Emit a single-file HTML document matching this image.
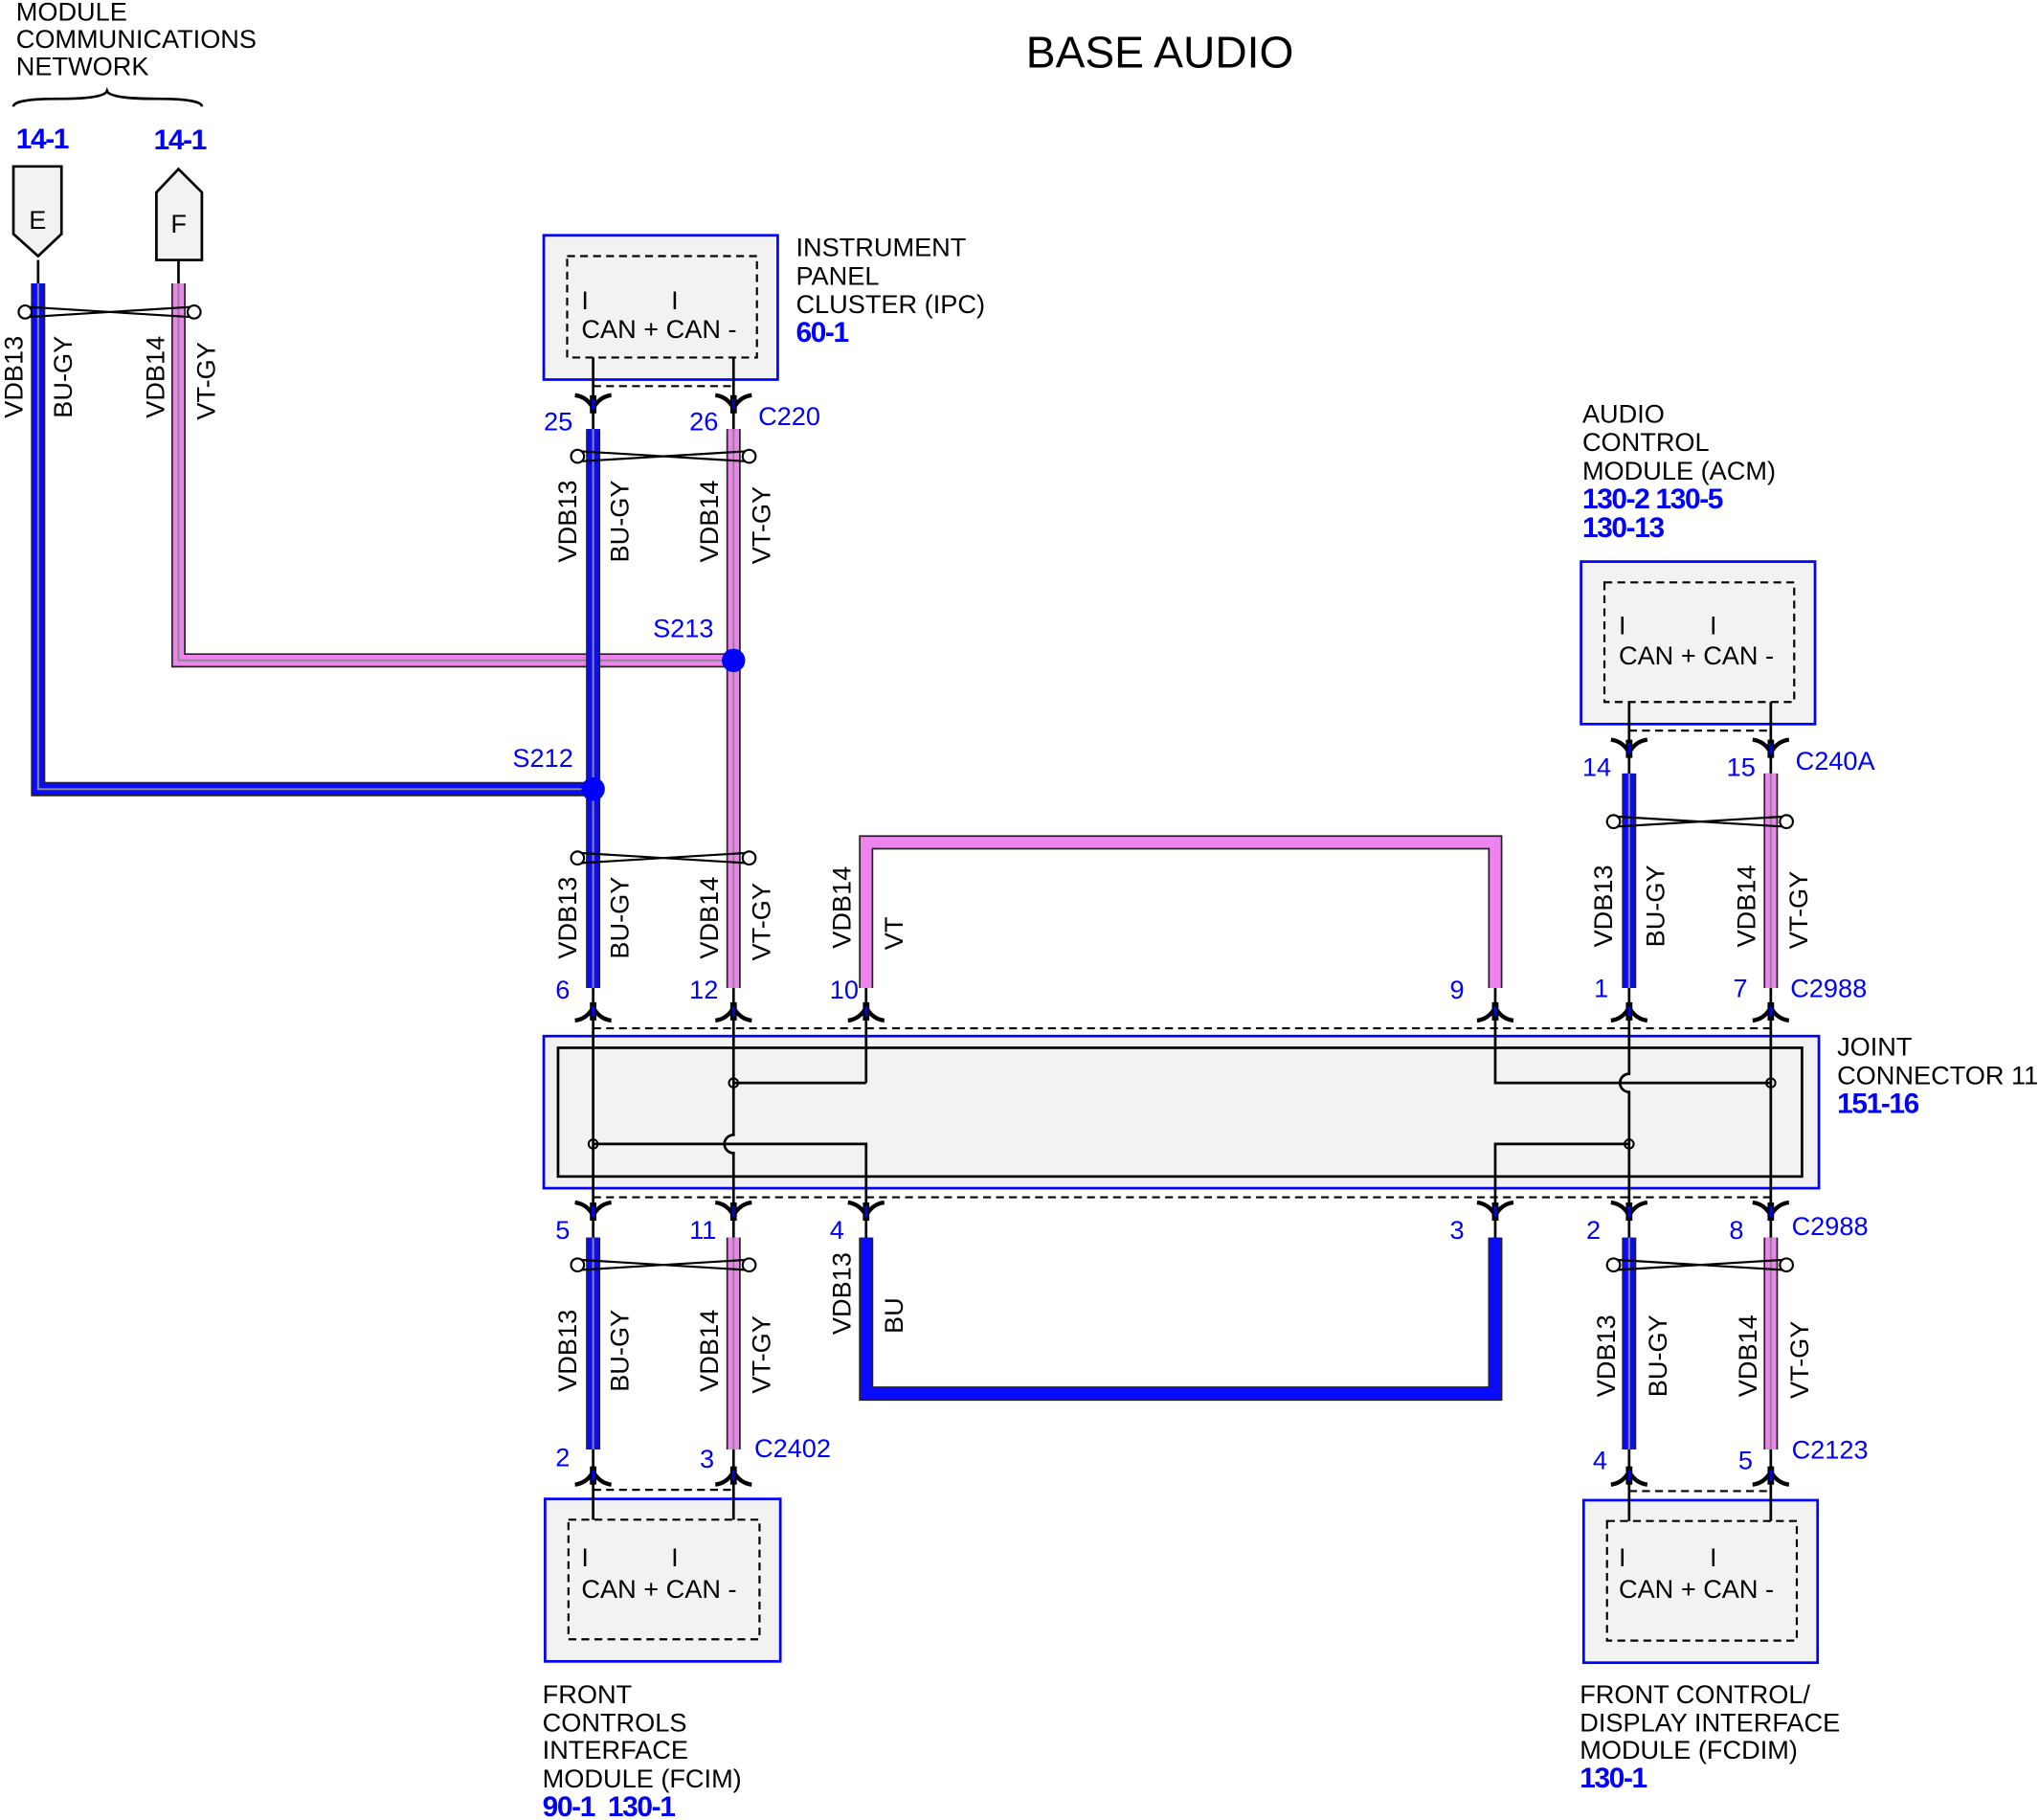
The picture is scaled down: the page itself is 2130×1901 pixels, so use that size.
<!DOCTYPE html>
<html><head><meta charset="utf-8"><style>
html,body{margin:0;padding:0;background:#fff;}
svg{display:block;}
text{font-family:"Liberation Sans","DejaVu Sans",sans-serif;font-size:20px;fill:#000;}
.b{fill:#0000ff;}
.bb{fill:#0000ff;font-weight:bold;font-size:22px;letter-spacing:-1px;}
</style></head><body>
<svg id="s" xmlns="http://www.w3.org/2000/svg" width="2130" height="1901" viewBox="0 0 1568 1400">
<g id="bg">
<!-- boxes -->
<rect x="418" y="181" width="180" height="111" fill="#f2f2f2" stroke="#0000ff" stroke-width="2"/>
<rect x="436" y="197" width="146" height="78" fill="none" stroke="#000" stroke-width="1.6" stroke-dasharray="6,4"/>
<rect x="1216" y="432" width="180" height="125" fill="#f2f2f2" stroke="#0000ff" stroke-width="2"/>
<rect x="1234" y="448" width="146" height="92" fill="none" stroke="#000" stroke-width="1.6" stroke-dasharray="6,4"/>
<rect x="419" y="1153" width="181" height="125" fill="#f2f2f2" stroke="#0000ff" stroke-width="2"/>
<rect x="437" y="1169" width="147" height="92" fill="none" stroke="#000" stroke-width="1.6" stroke-dasharray="6,4"/>
<rect x="1218" y="1154" width="180" height="125" fill="#f2f2f2" stroke="#0000ff" stroke-width="2"/>
<rect x="1236" y="1170" width="146" height="92" fill="none" stroke="#000" stroke-width="1.6" stroke-dasharray="6,4"/>
<rect x="418" y="797" width="981" height="117" fill="#f2f2f2" stroke="#0000ff" stroke-width="2"/>
<rect x="429" y="806" width="957" height="99" fill="none" stroke="#000" stroke-width="2"/>
<!-- dashed connector lines -->
<g stroke="#000" stroke-width="1.6" stroke-dasharray="6,4" fill="none">
<line x1="456" y1="297" x2="564" y2="297"/>
<line x1="1253" y1="562" x2="1362" y2="562"/>
<line x1="456" y1="791" x2="1362" y2="791"/>
<line x1="456" y1="921" x2="1362" y2="921"/>
<line x1="456" y1="1146" x2="564" y2="1146"/>
<line x1="1253" y1="1147" x2="1362" y2="1147"/>
</g>
<!-- internal joint lines -->
<g stroke="#000" stroke-width="2" fill="none">
<line x1="456" y1="275" x2="456" y2="332"/><line x1="564" y1="275" x2="564" y2="332"/>
<line x1="1253" y1="540" x2="1253" y2="597"/><line x1="1362" y1="540" x2="1362" y2="597"/>
<line x1="456" y1="758" x2="456" y2="955"/>
<path d="M564 758 V873 A7 7 0 0 0 564 887 V955"/>
<line x1="666" y1="758" x2="666" y2="833"/><line x1="564" y1="833" x2="666" y2="833"/>
<path d="M456 880 H666 V955"/>
<path d="M1150 758 V833 H1362"/>
<path d="M1253 758 V826 A7 7 0 0 0 1253 840 V955"/>
<line x1="1362" y1="758" x2="1362" y2="955"/>
<path d="M1253 880 H1150 V955"/>
<line x1="456" y1="1113" x2="456" y2="1169"/><line x1="564" y1="1113" x2="564" y2="1169"/>
<line x1="1253" y1="1113" x2="1253" y2="1170"/><line x1="1362" y1="1113" x2="1362" y2="1170"/>
<line x1="29" y1="200" x2="29" y2="220"/><line x1="137" y1="200" x2="137" y2="220"/>
</g>
<g fill="none" stroke="#000" stroke-width="1.5">
<circle cx="564" cy="833" r="3.5"/><circle cx="456" cy="880" r="3.5"/>
<circle cx="1362" cy="833" r="3.5"/><circle cx="1253" cy="880" r="3.5"/>
</g>
<!-- E/F connectors -->
<path d="M10 128 H47 V180 L29 197 L10 180 Z" fill="#f2f2f2" stroke="#000" stroke-width="2"/>
<path d="M120 148 L137 130 L155 148 V200 H120 Z" fill="#f2f2f2" stroke="#000" stroke-width="2"/>
<path d="M10 82 Q10 76 45 76 Q80 76 82 70 Q84 76 120 76 Q155 76 155 82" fill="none" stroke="#000" stroke-width="2"/>
</g>
<g id="dyn"></g>
<!-- splice dots -->
<circle cx="564" cy="508" r="9" fill="#0000ff"/>
<circle cx="456" cy="607" r="9" fill="#0000ff"/>

<!-- text -->
<text x="789" y="52" style="font-size:34px">BASE AUDIO</text>
<text x="12" y="16">MODULE</text>
<text x="12" y="37">COMMUNICATIONS</text>
<text x="12" y="58">NETWORK</text>
<text class="bb" x="12" y="114">14-1</text>
<text class="bb" x="118" y="115">14-1</text>
<text x="22" y="176">E</text>
<text x="131" y="179">F</text>

<text x="612" y="197">INSTRUMENT</text>
<text x="612" y="219">PANEL</text>
<text x="612" y="241">CLUSTER (IPC)</text>
<text class="bb" x="612" y="263">60-1</text>
<text x="447" y="238">I</text><text x="516" y="238">I</text>
<text x="447" y="260">CAN + CAN -</text>

<text x="1217" y="325">AUDIO</text>
<text x="1217" y="347">CONTROL</text>
<text x="1217" y="369">MODULE (ACM)</text>
<text class="bb" x="1217" y="391">130-2 130-5</text>
<text class="bb" x="1217" y="413">130-13</text>
<text x="1245" y="488">I</text><text x="1315" y="488">I</text>
<text x="1245" y="511">CAN + CAN -</text>

<text x="447" y="1205">I</text><text x="516" y="1205">I</text>
<text x="447" y="1229">CAN + CAN -</text>
<text x="1245" y="1205">I</text><text x="1315" y="1205">I</text>
<text x="1245" y="1229">CAN + CAN -</text>

<text x="417" y="1310">FRONT</text>
<text x="417" y="1332">CONTROLS</text>
<text x="417" y="1353">INTERFACE</text>
<text x="417" y="1375">MODULE (FCIM)</text>
<text class="bb" x="417" y="1397">90-1&#160;&#160;130-1</text>

<text x="1215" y="1310">FRONT CONTROL/</text>
<text x="1215" y="1332">DISPLAY INTERFACE</text>
<text x="1215" y="1353">MODULE (FCDIM)</text>
<text class="bb" x="1215" y="1375">130-1</text>

<text x="1413" y="812">JOINT</text>
<text x="1413" y="834">CONNECTOR 11</text>
<text class="bb" x="1413" y="856">151-16</text>

<g class="b">
<text class="b" x="418" y="331">25</text><text class="b" x="530" y="331">26</text><text class="b" x="583" y="327">C220</text>
<text class="b" x="502" y="490">S213</text><text class="b" x="394" y="590">S212</text>
<text class="b" x="1217" y="597">14</text><text class="b" x="1328" y="597">15</text><text class="b" x="1381" y="592">C240A</text>
<text class="b" x="427" y="768">6</text><text class="b" x="530" y="768">12</text><text class="b" x="638" y="768">10</text><text class="b" x="1115" y="768">9</text>
<text class="b" x="1226" y="767">1</text><text class="b" x="1333" y="767">7</text><text class="b" x="1377" y="767">C2988</text>
<text class="b" x="427" y="953">5</text><text class="b" x="530" y="953">11</text><text class="b" x="638" y="953">4</text><text class="b" x="1115" y="953">3</text>
<text class="b" x="1220" y="953">2</text><text class="b" x="1330" y="953">8</text><text class="b" x="1378" y="950">C2988</text>
<text class="b" x="427" y="1128">2</text><text class="b" x="538" y="1129">3</text><text class="b" x="580" y="1121">C2402</text>
<text class="b" x="1225" y="1130">4</text><text class="b" x="1337" y="1130">5</text><text class="b" x="1378" y="1122">C2123</text>
</g>

<!-- rotated wire labels -->
<g text-anchor="middle">
<text transform="translate(17,290) rotate(-90)">VDB13</text>
<text transform="translate(55,290) rotate(-90)">BU-GY</text>
<text transform="translate(126,290) rotate(-90)">VDB14</text>
<text transform="translate(165,293) rotate(-90)">VT-GY</text>

<text transform="translate(443,401) rotate(-90)">VDB13</text>
<text transform="translate(483,401) rotate(-90)">BU-GY</text>
<text transform="translate(552,401) rotate(-90)">VDB14</text>
<text transform="translate(592,404) rotate(-90)">VT-GY</text>

<text transform="translate(443,706) rotate(-90)">VDB13</text>
<text transform="translate(483,706) rotate(-90)">BU-GY</text>
<text transform="translate(552,706) rotate(-90)">VDB14</text>
<text transform="translate(592,709) rotate(-90)">VT-GY</text>

<text transform="translate(654,698) rotate(-90)">VDB14</text>
<text transform="translate(694,718) rotate(-90)">VT</text>

<text transform="translate(1240,697) rotate(-90)">VDB13</text>
<text transform="translate(1280,697) rotate(-90)">BU-GY</text>
<text transform="translate(1350,697) rotate(-90)">VDB14</text>
<text transform="translate(1390,700) rotate(-90)">VT-GY</text>

<text transform="translate(443,1039) rotate(-90)">VDB13</text>
<text transform="translate(483,1039) rotate(-90)">BU-GY</text>
<text transform="translate(552,1039) rotate(-90)">VDB14</text>
<text transform="translate(592,1042) rotate(-90)">VT-GY</text>

<text transform="translate(654,995) rotate(-90)">VDB13</text>
<text transform="translate(694,1012) rotate(-90)">BU</text>

<text transform="translate(1242,1043) rotate(-90)">VDB13</text>
<text transform="translate(1282,1043) rotate(-90)">BU-GY</text>
<text transform="translate(1351,1043) rotate(-90)">VDB14</text>
<text transform="translate(1391,1046) rotate(-90)">VT-GY</text>
</g>
</svg>
<script>
(function(){
var NS="http://www.w3.org/2000/svg",g=document.getElementById("dyn");
function el(t,a){var e=document.createElementNS(NS,t);for(var k in a)e.setAttribute(k,a[k]);g.appendChild(e);return e;}
var BL="#0a0aff",PK="#ee82ee";
function wire(d,c,stripe){
 el("path",{d:d,fill:"none",stroke:"#222",'stroke-width':11,'stroke-linejoin':"miter",'stroke-linecap':"butt"});
 el("path",{d:d,fill:"none",stroke:c,'stroke-width':8.5,'stroke-linejoin':"miter",'stroke-linecap':"butt"});
 if(stripe)el("path",{d:d,fill:"none",stroke:"#8a8a8a",'stroke-width':1.5,'stroke-linejoin':"miter"});
}
wire("M29 218 V607 H456",BL,1);
wire("M137 218 V508 H564",PK,1);
wire("M456 330 V760",BL,1);wire("M564 330 V760",PK,1);
wire("M1253 595 V760",BL,1);wire("M1362 595 V760",PK,1);
wire("M666 760 V648 H1150 V760",PK,0);
wire("M456 952 V1115",BL,1);wire("M564 952 V1115",PK,1);
wire("M1253 952 V1115",BL,1);wire("M1362 952 V1115",PK,1);
wire("M666 952 V1072 H1150 V952",BL,0);
function twist(x1,x2,y){
 el("path",{d:"M"+x1+" "+(y-4)+" L"+x2+" "+(y+4)+" M"+x1+" "+(y+4)+" L"+x2+" "+(y-4),stroke:"#000",'stroke-width':1.6,fill:"none"});
 el("circle",{cx:x1,cy:y,r:5,fill:"#fff",stroke:"#000",'stroke-width':1.6});
 el("circle",{cx:x2,cy:y,r:5,fill:"#fff",stroke:"#000",'stroke-width':1.6});
}
twist(19,149,240);twist(444,576,351);twist(444,576,660);twist(1241,1374,632);
twist(444,576,973);twist(1241,1374,973);
function conn(x,y,down){
 var s=down?1:-1;
 el("path",{d:"M"+(x-14)+" "+(y-7*s)+" Q"+(x-5)+" "+(y-6*s)+" "+x+" "+(y+3*s)+" Q"+(x+5)+" "+(y-6*s)+" "+(x+14)+" "+(y-7*s),fill:"none",stroke:"#000",'stroke-width':3.2});
 el("rect",{x:x-2.5,y:y-7,width:5,height:14,fill:"#000"});
 el("rect",{x:x-1,y:y-4,width:2,height:8,fill:"#0000ff"});
}
[456,564].forEach(function(x){conn(x,311,1);conn(x,778,0);conn(x,932,1);conn(x,1135,0);});
[1253,1362].forEach(function(x){conn(x,576,1);conn(x,778,0);conn(x,932,1);conn(x,1135,0);});
[666,1150].forEach(function(x){conn(x,778,0);conn(x,932,1);});
})();
</script>
</body></html>
